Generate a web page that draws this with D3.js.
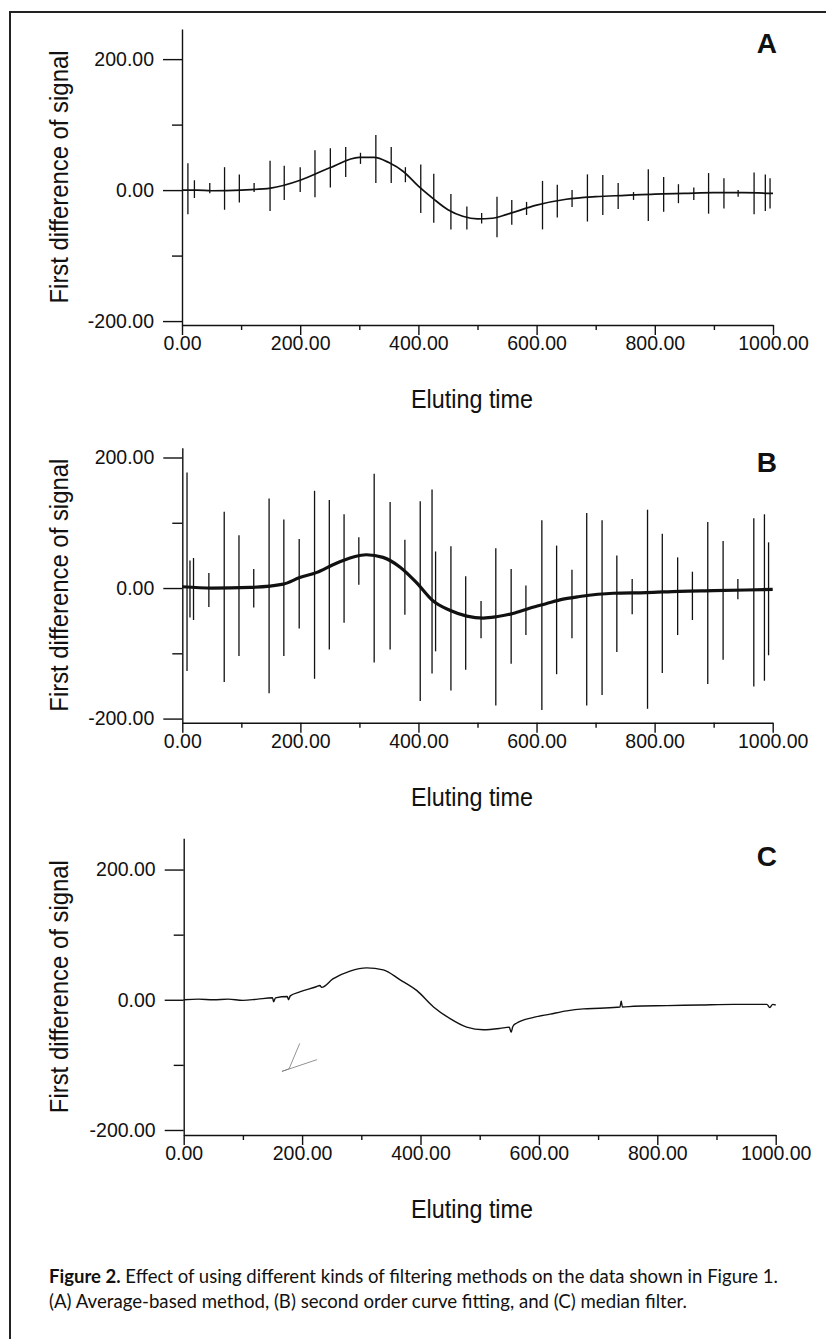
<!DOCTYPE html>
<html lang="en">
<head>
<meta charset="utf-8">
<title>Figure 2</title>
<script src="https://cdn.jsdelivr.net/npm/d3@7"></script>
<style>
  body { margin: 0; background: #fff; }
  svg text { fill: #111; }
  .axis text { font-family: "Liberation Sans", Arial, sans-serif; font-size: 19.5px; fill: #111; }
  .axis path, .axis line { stroke: #111; stroke-width: 1.4; }
  .lab { font-family: "Liberation Sans", Arial, sans-serif; font-size: 25px; }
  .letter { font-family: "Liberation Sans", Arial, sans-serif; font-size: 28px; font-weight: bold; }
  .cap { font-family: Lato, "Open Sans", sans-serif; font-size: 18.5px; }
</style>
</head>
<body>
<script>
// tick values shared by the three panels
var timeTicks = [0, 200, 400, 600, 800, 1000];
var timeMinor = [100, 300, 500, 700, 900];
var valueTicks = [-200, 0, 200];
var valueMinor = [-100, 100];

// (A) average-based method: smooth trend [time, value]
var baseA = [[0,0],[25,0],[50,-1],[100,0],[150,3],[200,15],[250,34],[300,50],[325,50],[350,42],
  [375,28],[400,6],[425,-13],[450,-30],[475,-40],[500,-44],[525,-43],[550,-37],[600,-23],
  [650,-14],[700,-10],[750,-8],[800,-6],[850,-5],[900,-4],[950,-4],[1000,-5]];
// spikes left by the filter: [time, top, bottom]
var spikesA = [[10,41,-37],[21,15,-12],[47,11,-5],[72,35,-30],[97,24,-19],[122,11,-3],
  [149,45,-32],[173,37,-15],[200,35,-3],[225,61,-11],[251,64,4],[277,66,20],[302,57,40],
  [328,84,11],[354,66,11],[378,35,12],[404,39,-35],[426,25,-50],[455,-6,-60],[482,-25,-60],
  [507,-35,-51],[533,-10,-72],[558,-15,-53],[583,-18,-38],[610,14,-60],[635,8,-42],
  [660,0,-26],[686,24,-48],[712,23,-38],[738,11,-29],[764,-3,-15],[789,32,-47],[815,20,-33],
  [840,9,-20],[866,4,-15],[891,26,-36],[917,18,-28],[941,0,-10],[968,27,-37],[987,24,-32],
  [995,18,-28]];

// (B) second order curve fitting
var baseB = [[0,2],[50,0],[115,1],[171,6],[199,16],[228,24],[256,36],[284,46],[312,51],
  [340,47],[369,32],[397,8],[425,-20],[453,-34],[482,-43],[510,-46],[532,-44],[560,-39],
  [588,-31],[616,-24],[645,-17],[673,-13],[730,-8],[786,-7],[842,-5],[899,-4],[955,-3],[1000,-2]];
var spikesB = [[8,177,-127],[13,42,-45],[19,46,-49],[45,23,-29],[71,117,-144],[96,81,-104],
  [121,29,-30],[147,137,-161],[172,105,-104],[198,75,-62],[224,149,-139],[249,135,-94],
  [274,113,-53],[299,78,5],[325,175,-114],[352,132,-94],[377,74,-41],[403,133,-173],
  [423,151,-131],[429,56,-97],[455,64,-157],[480,18,-125],[506,-20,-77],[531,61,-180],
  [557,29,-116],[582,4,-72],[609,104,-187],[634,65,-132],[660,28,-77],[685,115,-180],
  [711,104,-164],[736,50,-98],[762,14,-40],[788,120,-185],[813,83,-130],[839,47,-72],
  [864,25,-49],[890,101,-147],[916,72,-110],[941,14,-17],[968,107,-151],[986,113,-142],
  [993,70,-103]];

// (C) median filter
var baseC = [[0,0],[25,1],[50,0],[75,1],[100,-1],[125,1],[150,3],[152,-3],[155,3],[175,5],
  [177,0],[180,6],[196,12],[224,20],[230,22],[233,19],[252,32],[281,44],[309,49],[337,46],
  [365,31],[394,14],[422,-11],[450,-29],[478,-42],[506,-46],[534,-44],[550,-42],[553,-50],
  [556,-41],[562,-36],[591,-27],[619,-22],[647,-17],[675,-14],[703,-13],[737,-11],[739,-2],
  [741,-11],[760,-10],[816,-9],[872,-8],[929,-7],[985,-7],[990,-12],[995,-7],[1000,-8]];
// pencil mark on the scan, in panel C units
var markC = [[196,-67],[178,-106],[166,-110],[225,-92]];

// caption
var capLine1a = "Figure 2.";
var capLine1b = " Effect of using different kinds of filtering methods on the data shown in Figure 1.";
var capLine2 = "(A) Average-based method, (B) second order curve fitting, and (C) median filter.";

var W = 826, H = 1339;

// plain hyphen for negative numbers, like the original
var fmt = d3.formatLocale({decimal: ".", thousands: ",", grouping: [3], currency: ["", ""], minus: "-"})
  .format(".2f");

var svg = d3.select("body").append("svg")
  .attr("width", W)
  .attr("height", H);

// frame round the figure (right and bottom edges are off the page)
svg.append("path")
  .attr("d", "M10,1345 L10,12 L830,12")
  .attr("fill", "none")
  .attr("stroke", "#222")
  .attr("stroke-width", 2);

// layout of each panel
var panels = [
  {letter: "A", base: baseA, spikes: spikesA, x0: 182, x1: 773, top: 29, bottom: 325,
   vMin: -206, vMax: 246, lineW: 1.7, letterY: 53},
  {letter: "B", base: baseB, spikes: spikesB, x0: 182.3, x1: 772.7, top: 447.7, bottom: 722.7,
   vMin: -206.3, vMax: 215, lineW: 3.2, letterY: 471.5},
  {letter: "C", base: baseC, spikes: [], x0: 183.7, x1: 775.7, top: 838.3, bottom: 1135,
   vMin: -207.7, vMax: 248, lineW: 1.4, letterY: 866}
];

panels.forEach(function(p) {
  var x = d3.scaleLinear().domain([0, 1000]).range([p.x0, p.x1]);
  var y = d3.scaleLinear().domain([p.vMin, p.vMax]).range([p.bottom, p.top]);

  var g = svg.append("g");

  // y axis, labelled ticks and small ones
  g.append("g")
    .attr("class", "axis")
    .attr("transform", "translate(" + p.x0 + ",0)")
    .call(d3.axisLeft(y).tickValues(valueTicks).tickFormat(fmt)
      .tickSizeInner(19).tickSizeOuter(0).tickPadding(9));
  g.append("g")
    .attr("class", "axis")
    .attr("transform", "translate(" + p.x0 + ",0)")
    .call(d3.axisLeft(y).tickValues(valueMinor).tickFormat("")
      .tickSizeInner(10).tickSizeOuter(0))
    .select(".domain").remove();

  // x axis
  g.append("g")
    .attr("class", "axis")
    .attr("transform", "translate(0," + p.bottom + ")")
    .call(d3.axisBottom(x).tickValues(timeTicks).tickFormat(fmt)
      .tickSizeInner(10).tickSizeOuter(0).tickPadding(1));
  g.append("g")
    .attr("class", "axis")
    .attr("transform", "translate(0," + p.bottom + ")")
    .call(d3.axisBottom(x).tickValues(timeMinor).tickFormat("")
      .tickSizeInner(5).tickSizeOuter(0))
    .select(".domain").remove();

  // spikes
  g.selectAll(".spike")
    .data(p.spikes)
    .enter()
    .append("line")
    .attr("class", "spike")
    .attr("x1", function(d) { return x(d[0]); })
    .attr("x2", function(d) { return x(d[0]); })
    .attr("y1", function(d) { return y(d[1]); })
    .attr("y2", function(d) { return y(d[2]); })
    .attr("stroke", "#111")
    .attr("stroke-width", 1.3);

  // the filtered signal
  var line = d3.line()
    .x(function(d) { return x(d[0]); })
    .y(function(d) { return y(d[1]); })
    .curve(d3.curveMonotoneX);

  g.append("path")
    .datum(p.base)
    .attr("d", line)
    .attr("fill", "none")
    .attr("stroke", "#111")
    .attr("stroke-width", p.lineW)
    .attr("stroke-linejoin", "round");

  if (p.letter == "C") {
    g.append("path")
      .datum(markC)
      .attr("d", d3.line().x(function(d) { return x(d[0]); }).y(function(d) { return y(d[1]); }))
      .attr("fill", "none")
      .attr("stroke", "#777")
      .attr("stroke-width", 0.8);
  }

  // axis titles
  g.append("text")
    .attr("class", "lab")
    .attr("transform", "translate(68," + ((p.top + p.bottom) / 2) + ") rotate(-90)")
    .attr("text-anchor", "middle")
    .attr("textLength", 253)
    .attr("lengthAdjust", "spacingAndGlyphs")
    .text("First difference of signal");

  g.append("text")
    .attr("class", "lab")
    .attr("x", 472)
    .attr("y", p.bottom + 83)
    .attr("text-anchor", "middle")
    .attr("textLength", 122)
    .attr("lengthAdjust", "spacingAndGlyphs")
    .text("Eluting time");

  // panel letter
  g.append("text")
    .attr("class", "letter")
    .attr("x", 777)
    .attr("y", p.letterY)
    .attr("text-anchor", "end")
    .text(p.letter);
});

// caption
var c1 = svg.append("text")
  .attr("class", "cap")
  .attr("x", 49)
  .attr("y", 1283)
  .attr("textLength", 729)
  .attr("lengthAdjust", "spacingAndGlyphs");
c1.append("tspan").attr("font-weight", "bold").text(capLine1a);
c1.append("tspan").text(capLine1b);

svg.append("text")
  .attr("class", "cap")
  .attr("x", 49)
  .attr("y", 1308)
  .attr("textLength", 638)
  .attr("lengthAdjust", "spacingAndGlyphs")
  .text(capLine2);
</script>
</body>
</html>
